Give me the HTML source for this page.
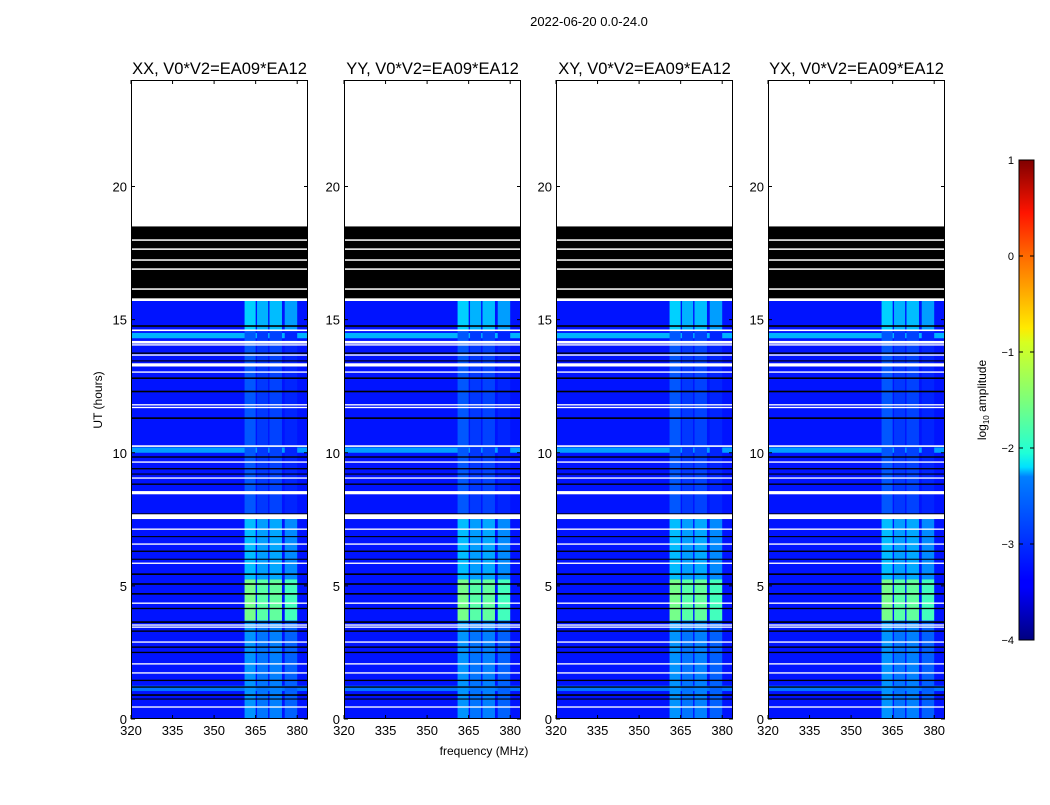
<!DOCTYPE html>
<html><head><meta charset="utf-8">
<style>
body{margin:0;background:#fff;font-family:"Liberation Sans",sans-serif;}
svg text{font-family:"Liberation Sans",sans-serif;fill:#000;}
</style></head>
<body>
<svg id="fig" width="1050" height="800" xmlns="http://www.w3.org/2000/svg">
<defs>
<linearGradient id="jet" x1="0" y1="1" x2="0" y2="0">
<stop offset="0" stop-color="#000080"/><stop offset="0.11" stop-color="#0000ff"/>
<stop offset="0.125" stop-color="#0000ff"/><stop offset="0.34" stop-color="#0080ff"/>
<stop offset="0.36" stop-color="#00e0ff"/><stop offset="0.39" stop-color="#20ffd7"/>
<stop offset="0.5" stop-color="#7dff7a"/><stop offset="0.62" stop-color="#d7ff20"/>
<stop offset="0.65" stop-color="#ffea00"/><stop offset="0.8" stop-color="#ff6a00"/>
<stop offset="0.89" stop-color="#ff1400"/><stop offset="1" stop-color="#800000"/>
</linearGradient>
</defs>
<text x="589" y="26" font-size="13" text-anchor="middle">2022-06-20 0.0-24.0</text>
<text x="484" y="755" font-size="12" text-anchor="middle">frequency (MHz)</text>
<text x="102" y="400" font-size="12" text-anchor="middle" transform="rotate(-90 102 400)">UT (hours)</text>
<g id="panels"></g>
<g id="cbar">
<rect x="1019" y="160" width="15" height="480" fill="url(#jet)" stroke="#000" stroke-width="1"/>
</g>
<text x="986" y="400" font-size="12" text-anchor="middle" transform="rotate(-90 986 400)">log<tspan font-size="8" dy="3">10</tspan><tspan dy="-3"> amplitude</tspan></text>
</svg>
<script>
const panelTitles=["XX, V0*V2=EA09*EA12","YY, V0*V2=EA09*EA12","XY, V0*V2=EA09*EA12","YX, V0*V2=EA09*EA12"];
const panelLefts=[131,344,556,768];
const xTicks=[320,335,350,365,380];
const yTicks=[0,5,10,15,20];
const cbarTicks=[1,0,-1,-2,-3,-4];
const bgLevel=-3.28;
const dataEnd=15.7;
const blackBlock=[15.8,18.5];
const whiteInBlack=[17.99,17.65,17.24,16.9,16.15];
const bands=[[361,365],[365.5,369.5],[370,374.5],[375.5,380]];
const bandOffset=[0,-0.15,-0.1,-0.25];
const colSegs=[[0,3.7,-2.65],[3.7,5.25,-1.55],[5.25,7.6,-2.45],[7.6,14.6,-2.95],[14.6,15.7,-2.35]];
const brightRows=[[14.3,14.5,-2.5],[10.0,10.2,-2.6],[1.05,1.25,-2.8]];
const whiteLines=[[14.6,0.06],[14.15,0.1],[14.05,0.05],[13.67,0.05],[13.3,0.12],[13.03,0.05],[11.8,0.05],[11.7,0.05],[10.25,0.06],[9.65,0.05],[9.05,0.05],[8.5,0.12],[7.6,0.18],[7.13,0.05],[6.57,0.05],[5.85,0.05],[4.35,0.05],[3.53,0.05],[3.45,0.05],[2.89,0.05],[2.07,0.05],[1.73,0.05],[0.45,0.05],[15.75,0.1]];
const blackLines=[[14.76,0.06],[13.74,0.05],[13.45,0.04],[12.8,0.06],[12.3,0.06],[11.3,0.06],[9.84,0.05],[8.82,0.05],[7.7,0.05],[6.85,0.04],[6.3,0.05],[6.0,0.04],[5.44,0.06],[5.07,0.06],[4.7,0.06],[4.15,0.05],[3.64,0.06],[3.3,0.05],[2.7,0.05],[2.5,0.05],[1.45,0.05],[1.2,0.05],[0.9,0.06],[0.75,0.04],[9.4,0.05],[9.2,0.04]];

const pw=177, axTop=80, axBot=719, fMin=320, fMax=320+177/2.77, tMax=24;
function jet(v){let t=Math.max(0,Math.min(1,(v+4)/5));
 const f=x=>Math.round(255*Math.max(0,Math.min(1,x)));
 return `rgb(${f(1.5-Math.abs(4*t-3))},${f(1.5-Math.abs(4*t-2))},${f(1.5-Math.abs(4*t-1))})`;}
const NS="http://www.w3.org/2000/svg";
function el(tag,attrs,parent){const e=document.createElementNS(NS,tag);for(const k in attrs)e.setAttribute(k,attrs[k]);parent.appendChild(e);return e;}
const root=document.getElementById('panels');
panelTitles.forEach((title,p)=>{
 const x0=panelLefts[p];
 const xs=f=>x0+(f-fMin)/(fMax-fMin)*pw;
 const ys=h=>axBot-h/tMax*(axBot-axTop);
 const g=el('g',{},root);
 
 
 const bg=el('rect',{x:x0,y:ys(dataEnd),width:pw,height:ys(0)-ys(dataEnd),fill:jet(bgLevel)},g);
 
 
 brightRows.forEach(r=>{const e=el('rect',{x:x0,y:ys(r[1]),width:pw,height:ys(r[0])-ys(r[1]),fill:jet(r[2])},g);
  
  });
 colSegs.forEach(s=>bands.forEach((b,i)=>{
  const e=el('rect',{x:xs(b[0]),y:ys(s[1]),width:xs(b[1])-xs(b[0]),height:ys(s[0])-ys(s[1]),fill:jet(s[2]+bandOffset[i])},g);
  
  }));
 blackLines.forEach(l=>{const e=el('rect',{x:x0,y:ys(l[0]+l[1]/2),width:pw,height:Math.max(1,ys(0)-ys(l[1])),fill:'#000'},g);
  
  });
 whiteLines.forEach(l=>{const e=el('rect',{x:x0,y:ys(l[0]+l[1]/2),width:pw,height:Math.max(1,ys(0)-ys(l[1])),fill:'#fff'},g);
  
  });
 const bb=el('rect',{x:x0,y:ys(blackBlock[1]),width:pw,height:ys(blackBlock[0])-ys(blackBlock[1]),fill:'#000'},g);
 
 
 whiteInBlack.forEach(h=>{const e=el('rect',{x:x0,y:ys(h)-0.7,width:pw,height:1.5,fill:'#fff'},g);
  
  });
 const fr=el('rect',{x:x0+0.5,y:axTop+0.5,width:pw-1,height:axBot-axTop-1,fill:'none',stroke:'#000','stroke-width':1},g);
 
 
 xTicks.forEach(f=>{const x=xs(f);
  el('line',{x1:x,x2:x,y1:axBot,y2:axBot-4,stroke:'#000'},g);
  el('line',{x1:x,x2:x,y1:axTop,y2:axTop+4,stroke:'#000'},g);
  const t=el('text',{x:x,y:axBot+16,'font-size':13,'text-anchor':'middle'},g);t.textContent=f;
  
  });
 yTicks.forEach(h=>{const y=ys(h);
  el('line',{x1:x0,x2:x0+4,y1:y,y2:y,stroke:'#000'},g);
  el('line',{x1:x0+pw,x2:x0+pw-4,y1:y,y2:y,stroke:'#000'},g);
  const t=el('text',{x:x0-4,y:y+5,'font-size':13,'text-anchor':'end'},g);t.textContent=h;
  
  });
 const tt=el('text',{x:x0+pw/2,y:74,'font-size':16.5,'text-anchor':'middle'},g);tt.textContent=title;
 
 
});
const cb=document.getElementById('cbar');
cbarTicks.forEach(v=>{const y=640-(v+4)/5*480;
 el('line',{x1:1019,x2:1023,y1:y,y2:y,stroke:'#000'},cb);
 el('line',{x1:1030,x2:1034,y1:y,y2:y,stroke:'#000'},cb);
 const t=el('text',{x:1014,y:y+4,'font-size':11,'text-anchor':'end'},cb);t.textContent=v<0?'\u2212'+(-v):v;
 
 });
</script>
</body></html>
